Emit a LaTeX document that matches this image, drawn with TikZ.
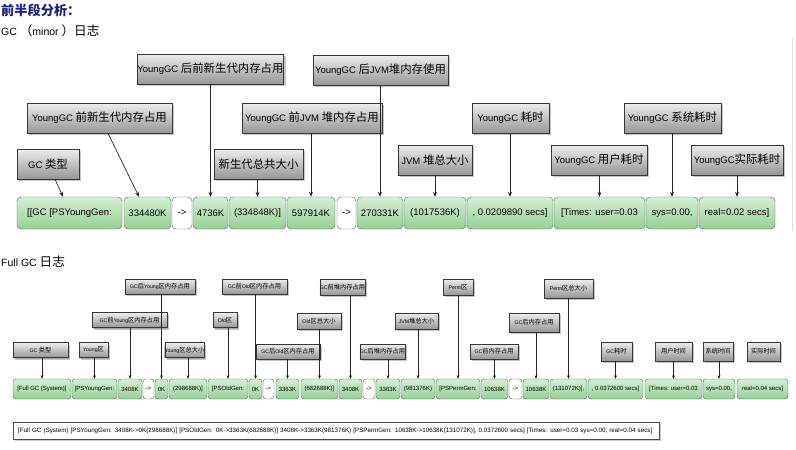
\documentclass[tikz,border=0pt]{standalone}
\usepackage{fontspec}
\setmainfont{Liberation Sans}
\newfontfamily\cjk[Scale=1.2]{Noto Sans CJK SC}
\newcommand{\zh}[1]{{\cjk #1}}
\usetikzlibrary{arrows.meta,shadows}
\definecolor{title_blue}{RGB}{25,35,120}
\definecolor{cell_top}{RGB}{212,240,212}
\definecolor{cell_bot}{RGB}{150,208,150}
\definecolor{cell_edge}{RGB}{85,100,85}
\definecolor{tag_top}{RGB}{238,238,238}
\definecolor{tag_bot}{RGB}{150,150,150}
\definecolor{tag_edge}{RGB}{55,55,55}

\begin{document}
\begin{tikzpicture}[x=1pt,y=-1pt]
    \tikzstyle{cell}=[draw=cell_edge, rounded corners=4pt, top color=cell_top, bottom color=cell_bot, inner sep=0pt, minimum height=32pt, font=\fontsize{9.5}{10}\selectfont]
    \tikzstyle{gap}=[cell, top color=white, bottom color=white]
    \tikzstyle{fcell}=[cell, rounded corners=3pt, minimum height=20pt, font=\fontsize{6}{7}\selectfont]
    \tikzstyle{fgap}=[fcell, top color=white, bottom color=white]
    \tikzstyle{tag}=[draw=tag_edge, top color=tag_top, bottom color=tag_bot, inner sep=0pt, minimum height=30pt, font=\fontsize{9.5}{10}\selectfont, drop shadow={shadow xshift=2pt, shadow yshift=-2pt, opacity=0.45}]
    \tikzstyle{ftag}=[tag, minimum height=15pt, font=\fontsize{5.2}{6}\selectfont, drop shadow={shadow xshift=1.2pt, shadow yshift=-1.2pt, opacity=0.45}]
    \tikzstyle{arr}=[-{Stealth[length=5pt,width=4pt]}, draw=black!85, line width=0.7pt]
    \tikzstyle{farr}=[arr, -{Stealth[length=3.5pt,width=3pt]}, line width=0.5pt]

    \useasboundingbox (0,0) rectangle (796,450);
    \draw[gray!25] (792,38) -- (792,231);

    % captions
    \node[anchor=west, inner sep=0pt, text=title_blue, font=\fontsize{11}{12}\selectfont\cjk\bfseries] (title) at (1,10.5) {前半段分析：};
    \node[anchor=west, inner sep=0pt, font=\fontsize{10.5}{12}\selectfont] (minorcap) at (1,31) {GC \zh{（}minor \zh{）日志}};
    \node[anchor=west, inner sep=0pt, font=\fontsize{10.5}{12}\selectfont] (fullcap) at (1,262) {Full GC \zh{日志}};

    % minor GC line
    \node[cell, minimum width=105pt] (m1)  at (69.5,213)  {[[GC [PSYoungGen:};
    \node[cell, minimum width=47pt]  (m2)  at (147.5,213) {334480K};
    \node[gap,  minimum width=20pt]  (m3)  at (182,213)   {->};
    \node[cell, minimum width=35pt]  (m4)  at (210.5,213) {4736K};
    \node[cell, minimum width=57pt]  (m5)  at (257.5,213) {(334848K)]};
    \node[cell, minimum width=48pt]  (m6)  at (311,213)   {597914K};
    \node[gap,  minimum width=19pt]  (m7)  at (346.5,213) {->};
    \node[cell, minimum width=46pt]  (m8)  at (380,213)   {270331K};
    \node[cell, minimum width=62pt]  (m9)  at (435,213)   {(1017536K)};
    \node[cell, minimum width=86pt]  (m10) at (510,213)   {, 0.0209890 secs]};
    \node[cell, minimum width=91pt]  (m11) at (599.5,213) {[Times: user=0.03};
    \node[cell, minimum width=52pt]  (m12) at (672,213)   {sys=0.00,};
    \node[cell, minimum width=76pt]  (m13) at (737,213)   {real=0.02 secs]};

    \node[tag, minimum width=62pt]  (gctype)   at (48,164)    {GC \zh{类型}};
    \node[tag, minimum width=145pt] (youngpre) at (99.5,118)  {YoungGC \zh{前新生代内存占用}};
    \node[tag, minimum width=145pt] (youngpst) at (210.5,69)  {YoungGC \zh{后前新生代内存占用}};
    \node[tag, minimum width=135pt] (heappst)  at (380.5,70)  {YoungGC \zh{后}JVM\zh{堆内存使用}};
    \node[tag, minimum width=89pt]  (youngtot) at (258.5,164) {\zh{新生代总共大小}};
    \node[tag, minimum width=140pt] (heappre)  at (312,118)   {YoungGC \zh{前}JVM \zh{堆内存占用}};
    \node[tag, minimum width=74pt]  (heaptot)  at (435,160)   {JVM \zh{堆总大小}};
    \node[tag, minimum width=77pt]  (gctime)   at (510.5,118) {YoungGC \zh{耗时}};
    \node[tag, minimum width=96pt]  (usertime) at (599,160)   {YoungGC \zh{用户耗时}};
    \node[tag, minimum width=97pt]  (systime)  at (672.5,118) {YoungGC \zh{系统耗时}};
    \node[tag, minimum width=92pt]  (realtime) at (737,160)   {YoungGC\zh{实际耗时}};

    \draw[arr] ([xshift=7pt]gctype.south) -- ([xshift=-6.5pt]m1.north);
    \draw[arr] ([xshift=8.5pt]youngpre.south) -- ([xshift=-8.5pt]m2.north);
    \draw[arr] (youngpst.south -| m4.north) -- (m4.north);
    \draw[arr] (youngtot.south -| m5.north) -- (m5.north);
    \draw[arr] (heappre.south -| m6.north) -- (m6.north);
    \draw[arr] (heappst.south -| m8.north) -- (m8.north);
    \draw[arr] (heaptot.south -| m9.north) -- (m9.north);
    \draw[arr] (gctime.south -| m10.north) -- (m10.north);
    \draw[arr] (usertime.south -| m11.north) -- (m11.north);
    \draw[arr] (systime.south -| m12.north) -- (m12.north);
    \draw[arr] (realtime.south -| m13.north) -- (m13.north);

    % full GC line
    \node[fcell, minimum width=58pt] (f1)  at (42,389)    {[Full GC (System)]};
    \node[fcell, minimum width=45pt] (f2)  at (94.5,389)  {[PSYoungGen:};
    \node[fcell, minimum width=24pt] (f3)  at (130,389)   {3408K};
    \node[fgap,  minimum width=11pt] (f4)  at (148.5,389) {->};
    \node[fcell, minimum width=13pt] (f5)  at (161.5,389) {0K};
    \node[fcell, minimum width=38pt] (f6)  at (188,389)   {(298688K)]};
    \node[fcell, minimum width=40pt] (f7)  at (228,389)   {[PSOldGen:};
    \node[fcell, minimum width=13pt] (f8)  at (255.5,389) {0K};
    \node[fgap,  minimum width=11pt] (f9)  at (268.5,389) {->};
    \node[fcell, minimum width=23pt] (f10) at (287.5,389) {3363K};
    \node[fcell, minimum width=37pt] (f11) at (319.5,389) {(682688K)]};
    \node[fcell, minimum width=23pt] (f12) at (350.5,389) {3408K};
    \node[fgap,  minimum width=12pt] (f13) at (369,389)   {->};
    \node[fcell, minimum width=24pt] (f14) at (388,389)   {3363K};
    \node[fcell, minimum width=34pt] (f15) at (418,389)   {(981376K)};
    \node[fcell, minimum width=44pt] (f16) at (458,389)   {[PSPermGen:};
    \node[fcell, minimum width=27pt] (f17) at (494.5,389) {10638K};
    \node[fgap,  minimum width=13pt] (f18) at (515.5,389) {->};
    \node[fcell, minimum width=26pt] (f19) at (536,389)   {10638K};
    \node[fcell, minimum width=37pt] (f20) at (568.5,389) {(131072K)],};
    \node[fcell, minimum width=55pt] (f21) at (615.5,389) {, 0.0372600 secs]};
    \node[fcell, minimum width=57pt] (f22) at (673.5,389) {[Times: user=0.03};
    \node[fcell, minimum width=32pt] (f23) at (719,389)   {sys=0.00,};
    \node[fcell, minimum width=51pt] (f24) at (762.5,389) {real=0.04 secs]};

    \node[ftag, minimum width=55pt] (fgctype)   at (40.5,350)  {GC \zh{类型}};
    \node[ftag, minimum width=29pt] (fyoung)    at (93.5,350)  {Young\zh{区}};
    \node[ftag, minimum width=75pt] (fyoungpre) at (129.5,320) {GC\zh{前}Young\zh{区内存占用}};
    \node[ftag, minimum width=70pt] (fyoungpst) at (160,286.5) {GC\zh{后}Young\zh{区内存占用}};
    \node[ftag, minimum width=39pt] (fyoungtot) at (184.5,350) {Young\zh{区总大小}};
    \node[ftag, minimum width=24pt] (fold)      at (225,320)   {Old\zh{区}};
    \node[ftag, minimum width=65pt] (foldpre)   at (254.5,286.5) {GC\zh{前}Old\zh{区内存占用}};
    \node[ftag, minimum width=64pt] (foldpst)   at (288,351.5) {GC\zh{后}Old\zh{区内存占用}};
    \node[ftag, minimum width=44pt, minimum height=16pt] (foldtot)  at (319,321)   {Old\zh{区总大小}};
    \node[ftag, minimum width=39pt, minimum height=16pt] (fheappre) at (342.5,287) {GC\zh{前堆内存占用}};
    \node[ftag, minimum width=41pt] (fheappst)  at (382.5,351.5) {GC\zh{后堆内存占用}};
    \node[ftag, minimum width=43pt, minimum height=16pt] (fheaptot) at (416.5,321) {JVM\zh{堆总大小}};
    \node[ftag, minimum width=30pt, minimum height=16pt] (fperm)    at (458,287)   {Perm\zh{区}};
    \node[ftag, minimum width=48pt] (fpermpre)  at (494,351.5) {GC\zh{前内存占用}};
    \node[ftag, minimum width=50pt, minimum height=19pt] (fpermpst) at (534,322.5) {GC\zh{后内存占用}};
    \node[ftag, minimum width=49pt, minimum height=19pt] (fpermtot) at (568.5,288.5) {Perm\zh{区总大小}};
    \node[ftag, minimum width=31pt, minimum height=19pt] (fgctime)  at (616.5,351.5) {GC\zh{耗时}};
    \node[ftag, minimum width=37pt, minimum height=19pt] (fusertime) at (673.5,351.5) {\zh{用户时间}};
    \node[ftag, minimum width=30pt, minimum height=19pt] (fsystime) at (718,351.5) {\zh{系统时间}};
    \node[ftag, minimum width=33pt, minimum height=19pt] (frealtime) at (763.5,351.5) {\zh{实际时间}};

    \draw[farr] (fgctype.south -| f1.north) -- (f1.north);
    \draw[farr] (fyoung.south -| f2.north) -- (f2.north);
    \draw[farr] (fyoungpre.south -| f3.north) -- (f3.north);
    \draw[farr] (fyoungpst.south -| f5.north) -- (f5.north);
    \draw[farr] (fyoungtot.south -| f6.north) -- (f6.north);
    \draw[farr] (fold.south -| f7.north) -- (f7.north);
    \draw[farr] (foldpre.south -| f8.north) -- (f8.north);
    \draw[farr] (foldpst.south -| f10.north) -- (f10.north);
    \draw[farr] (foldtot.south -| f11.north) -- (f11.north);
    \draw[farr] (fheappre.south -| f12.north) -- (f12.north);
    \draw[farr] (fheappst.south -| f14.north) -- (f14.north);
    \draw[farr] (fheaptot.south -| f15.north) -- (f15.north);
    \draw[farr] (fperm.south -| f16.north) -- (f16.north);
    \draw[farr] (fpermpre.south -| f17.north) -- (f17.north);
    \draw[farr] (fpermpst.south -| f19.north) -- (f19.north);
    \draw[farr] (fpermtot.south -| f20.north) -- (f20.north);
    \draw[farr] (fgctime.south -| f21.north) -- (f21.north);
    \draw[farr] (fusertime.south -| f22.north) -- (f22.north);
    \draw[farr] (fsystime.south -| f23.north) -- (f23.north);

    % raw log line
    \node[draw=black!70, fill=white, anchor=west, text width=636pt, align=left, inner xsep=5pt, inner ysep=0pt, minimum height=17pt, font=\fontsize{6.25}{7}\selectfont, drop shadow={shadow xshift=1.5pt, shadow yshift=-1.5pt, opacity=0.4}] (rawlog) at (13,430.5)
      {[Full GC (System) [PSYoungGen: 3408K->0K(298688K)] [PSOldGen: 0K->3363K(682688K)] 3408K->3363K(981376K) [PSPermGen: 10638K->10638K(131072K)], 0.0372600 secs] [Times: user=0.03 sys=0.00, real=0.04 secs]};
\end{tikzpicture}
\end{document}
